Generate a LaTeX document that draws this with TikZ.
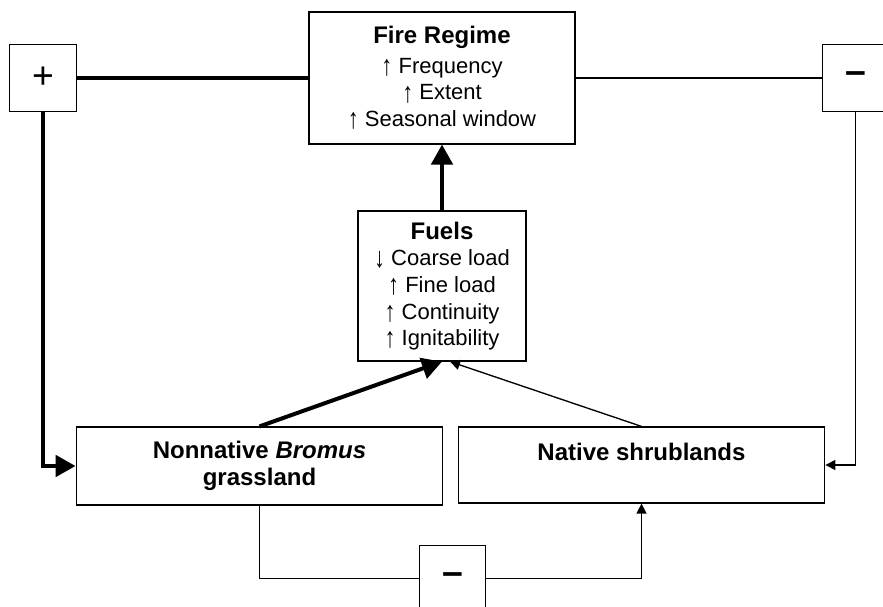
\documentclass[tikz,border=0pt]{standalone}
\usepackage{fontspec}
\usepackage{graphicx}
\setmainfont{Liberation Sans}
\usetikzlibrary{arrows.meta}

\tikzset{
  box/.style={draw,line width=0.9pt,align=center,inner sep=0pt},
  signbox/.style={draw,line width=0.9pt,minimum size=50pt,inner sep=0pt},
  heavy/.style={line width=3pt},
  light/.style={line width=1pt},
  heavyarrow/.style={heavy,-{Triangle[length=15pt,width=16pt]}},
  lightarrow/.style={light,-{Triangle[length=7.5pt,width=7.5pt]}},
}
\newcommand{\heading}[1]{{\fontsize{18}{20}\selectfont\bfseries #1}}
\newcommand{\signfont}{\fontsize{28}{28}\selectfont}
\newcommand{\up}{\raisebox{-0.1em}{\scalebox{1}[1.3]{↑}}}
\newcommand{\down}{\raisebox{-0.1em}{\scalebox{1}[1.3]{↓}}}

\begin{document}
\begin{tikzpicture}[x=0.75pt,y=-0.75pt,font=\fontsize{16.5}{20}\selectfont]
	\useasboundingbox (0,0) rectangle (883,607);
	\clip (0,0) rectangle (883,607);
	% boxes
	\node[box,minimum width=199.5pt,minimum height=99pt] (fire) at (442,78)
		{\heading{Fire Regime}\\[2pt] \up{} Frequency\\ \up{} Extent\\ \up{} Seasonal window};
	\node[box,minimum width=126pt,minimum height=112.5pt] (fuels) at (442,286)
		{\heading{Fuels}\\ \down{} Coarse load\\ \up{} Fine load\\ \up{} Continuity\\ \up{} Ignitability};
	\node[box,minimum width=275pt,minimum height=58.5pt] (nonnative) at (259.5,466)
		{\heading{Nonnative \textit{Bromus}}\\ \heading{grassland}};
	\node[box,minimum width=275pt,minimum height=57pt] (native) at (641.5,465)
		{\heading{Native shrublands}\\ \mbox{}};
	\node[signbox] (plus) at (43,78) {\signfont +};
	\node[signbox] (minusR) at (855.5,78) {\signfont\bfseries –};
	\node[signbox] (minusB) at (452.5,578.5) {\signfont\bfseries –};
	% connectors
	\draw[heavy] (plus) -- (fire);
	\draw[light] (fire) -- (minusR);
	\draw[heavyarrow] (plus) |- (nonnative);
	\draw[heavyarrow] (fuels) -- (fire);
	\draw[heavyarrow] (nonnative.north) -- (fuels.south);
	\draw[lightarrow] (native.north) -- ([xshift=6pt]fuels.south);
	\draw[lightarrow] (minusR) |- (native);
	\draw[light] (nonnative) |- (minusB);
	\draw[lightarrow] (minusB) -| (native);
\end{tikzpicture}
\end{document}
